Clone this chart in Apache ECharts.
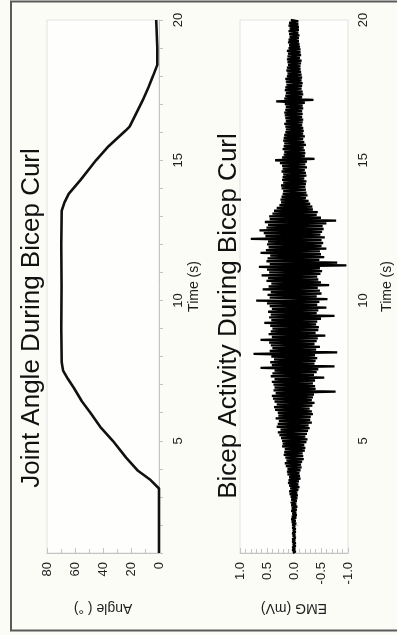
<!DOCTYPE html>
<html>
<head>
<meta charset="utf-8">
<script src="https://cdn.jsdelivr.net/npm/echarts@6/dist/echarts.min.js"></script>
<style>
	html, body { margin: 0; padding: 0; background: #fcfcf7; }
	#main { width: 397px; height: 635px; }
</style>
</head>
<body>
<div id="main"></div>
<script>
	// joint angle
	var angleTime = [1, 3.3, 3.6, 3.93, 4.4, 5, 5.5, 6, 6.4, 6.9, 7.2, 7.5, 7.8, 9, 10.5, 12, 13.2, 13.5, 13.8, 14.3, 15, 15.5, 16.05, 16.2, 16.7, 17.15, 17.6, 18, 18.4, 19, 20]
	var angleDeg  = [0, 0, 6, 15, 23.5, 33, 42, 49, 55, 61, 65, 68.5, 69.5, 69.8, 69.6, 69.8, 69.5, 67.5, 64.5, 56, 45, 36, 24, 21, 16, 11.5, 7.5, 4.3, 1.2, 1.2, 2]

	// EMG samples, one every 0.05 s starting at 1 s
	var emgStart = 1
	var emgStep = 0.05
	var emgValues = [
		0.02,-0.03,0.03,-0.02,0.03,-0.03,0.02,-0.03,0.03,-0.02,0.03,-0.03,0.02,-0.02,0.03,-0.03,0.02,-0.03,0.03,-0.02,
		0.03,-0.04,0.04,-0.03,0.05,-0.04,0.04,-0.05,0.03,-0.04,0.05,-0.05,0.04,-0.06,0.05,-0.04,0.06,-0.05,0.05,-0.06,
		0.06,-0.07,0.08,-0.06,0.09,-0.08,0.07,-0.10,0.09,-0.08,0.11,-0.09,0.10,-0.12,0.09,-0.11,0.12,-0.10,0.13,-0.12,
		0.12,-0.14,0.15,-0.13,0.17,-0.15,0.14,-0.18,0.16,-0.17,0.19,-0.16,0.18,-0.20,0.17,-0.21,0.22,-0.19,0.21,-0.23,
		0.22,-0.25,0.24,-0.21,0.27,-0.24,0.30,-0.26,0.25,-0.29,0.32,-0.27,0.30,-0.33,0.28,-0.30,0.34,-0.31,0.29,-0.35,
		0.30,-0.33,0.35,-0.29,0.37,-0.34,0.32,-0.38,0.36,-0.33,0.39,-0.35,0.41,-0.37,0.34,-0.77,0.38,-0.40,0.36,-0.39,
		0.38,-0.35,0.41,-0.39,0.36,-0.56,0.43,-0.37,0.40,-0.42,0.36,-0.45,0.62,-0.75,0.41,-0.38,0.44,-0.40,0.37,-0.43,
		0.42,-0.39,0.75,-0.80,0.45,-0.41,0.40,-0.48,0.43,-0.38,0.46,-0.42,0.62,-0.44,0.41,-0.58,0.47,-0.40,0.43,-0.45,
		0.40,-0.46,0.44,-0.41,0.55,-0.43,0.42,-0.50,0.46,-0.75,0.43,-0.42,0.48,-0.45,0.41,-0.60,0.45,-0.43,0.50,-0.47,
		0.70,-0.62,0.45,-0.42,0.49,-0.51,0.43,-0.48,0.58,-0.44,0.47,-0.65,0.42,-0.50,0.51,-0.45,0.48,-0.43,0.60,-0.49,
		0.46,-0.52,0.50,-0.48,0.65,-0.97,0.45,-0.80,0.51,-0.47,0.49,-0.56,0.44,-0.50,0.62,-0.48,0.52,-0.60,0.47,-0.51,
		0.50,-0.54,0.48,-0.51,0.80,-0.57,0.53,-0.49,0.56,-0.52,0.64,-0.55,0.51,-0.53,0.48,-0.60,0.54,-0.78,0.45,-0.50,
		0.46,-0.42,0.40,-0.44,0.37,-0.35,0.32,-0.34,0.27,-0.30,0.24,-0.27,0.25,-0.22,0.23,-0.25,0.21,-0.23,0.20,-0.22,
		0.23,-0.21,0.24,-0.22,0.20,-0.23,0.22,-0.19,0.21,-0.23,0.20,-0.22,0.23,-0.20,0.21,-0.24,0.22,-0.21,0.26,-0.24,
		0.35,-0.38,0.22,-0.20,0.19,-0.21,0.18,-0.20,0.21,-0.18,0.19,-0.22,0.18,-0.19,0.20,-0.17,0.19,-0.20,0.18,-0.17,
		0.16,-0.18,0.15,-0.17,0.16,-0.15,0.18,-0.16,0.15,-0.17,0.16,-0.15,0.17,-0.16,0.18,-0.15,0.16,-0.17,0.15,-0.16,
		0.17,-0.20,0.33,-0.36,0.18,-0.15,0.16,-0.17,0.15,-0.16,0.17,-0.14,0.16,-0.15,0.14,-0.16,0.15,-0.14,0.16,-0.15,
		0.13,-0.14,0.12,-0.13,0.14,-0.12,0.13,-0.12,0.11,-0.13,0.12,-0.14,0.13,-0.11,0.12,-0.13,0.11,-0.12,0.13,-0.12,
		0.10,-0.11,0.09,-0.10,0.11,-0.09,0.10,-0.09,0.08,-0.10,0.09,-0.08,0.10,-0.09,0.08,-0.09,0.10,-0.08,0.09,-0.08,
		0.06
	]

	var timeLabels = [5, 10, 15, 20]
	var titles = ['Joint Angle During Bicep Curl', 'Bicep Activity During Bicep Curl']

	var font = 'Arial, "Liberation Sans", sans-serif'
	var txt = '#1e1e1e'
	var axisGray = '#c4c4c4'

	function timeAxis(idx, labelMargin, nameGap) {
		return {
			type: 'value', gridIndex: idx, position: 'right',
			min: 1, max: 20, interval: 1,
			name: 'Time (s)', nameLocation: 'middle', nameGap: nameGap, nameRotate: 90,
			nameTextStyle: { color: txt, fontSize: 14, fontFamily: font },
			axisLine: { show: true, lineStyle: { color: axisGray, width: 1 } },
			axisTick: { show: true, inside: false, length: 4, lineStyle: { color: axisGray } },
			axisLabel: {
				rotate: 90, margin: labelMargin, color: txt, fontSize: 13, fontFamily: font,
				formatter: function (v) { return timeLabels.indexOf(v) >= 0 ? String(v) : '' }
			},
			splitLine: { show: false }
		}
	}

	function valueAxis(idx, min, max, interval, minorSplit, name, digits) {
		return {
			type: 'value', gridIndex: idx, position: 'bottom', inverse: true,
			min: min, max: max, interval: interval,
			name: name, nameLocation: 'middle', nameGap: 48, nameRotate: 180,
			nameTextStyle: { color: txt, fontSize: 14, fontFamily: font },
			axisLine: { show: true, lineStyle: { color: axisGray, width: 1 } },
			axisTick: { show: true, inside: true, length: 5, lineStyle: { color: axisGray } },
			minorTick: { show: true, splitNumber: minorSplit, length: 4, lineStyle: { color: axisGray } },
			axisLabel: {
				rotate: 90, margin: 9, color: txt, fontSize: 13, fontFamily: font,
				formatter: function (v) { return v.toFixed(digits) }
			},
			splitLine: { show: false }
		}
	}

	var gridStyle = { show: true, borderColor: '#e2e2e2', borderWidth: 1, backgroundColor: '#fefefc' }

	var option = {
		animation: false,
		backgroundColor: '#fcfcf7',
		grid: [
			Object.assign({ left: 47, top: 20, width: 112, height: 533 }, gridStyle),
			Object.assign({ left: 240, top: 20, width: 108, height: 533 }, gridStyle)
		],
		xAxis: [
			valueAxis(0, 0, 80, 20, 2, 'Angle ( °)', 0),
			valueAxis(1, -1, 1, 0.5, 5, 'EMG (mV)', 1)
		],
		yAxis: [
			timeAxis(0, 13, 28),
			timeAxis(1, 9, 32)
		],
		graphic: [
			{ type: 'rect', silent: true, shape: { x: 11, y: 1.5, width: 400, height: 629 }, style: { fill: 'none', stroke: '#5a5a5a', lineWidth: 2 } },
			{ type: 'text', x: 32, y: 318, rotation: Math.PI / 2, style: { text: titles[0], fill: '#111', fontSize: 26, fontFamily: font, align: 'center', verticalAlign: 'middle' } },
			{ type: 'text', x: 229, y: 316, rotation: Math.PI / 2, style: { text: titles[1], fill: '#111', fontSize: 26, fontFamily: font, align: 'center', verticalAlign: 'middle' } }
		],
		series: [
			{
				type: 'line', xAxisIndex: 0, yAxisIndex: 0, showSymbol: false,
				data: angleTime.map(function (t, i) { return [angleDeg[i], t] }),
				lineStyle: { color: '#111', width: 2.6 }
			},
			{
				type: 'line', xAxisIndex: 1, yAxisIndex: 1, showSymbol: false,
				data: emgValues.map(function (v, i) { return [v, emgStart + i * emgStep] }),
				lineStyle: { color: '#000', width: 2.3 }
			}
		]
	}

	var myChart = echarts.init(document.getElementById('main'))
	myChart.setOption(option)
</script>
</body>
</html>
